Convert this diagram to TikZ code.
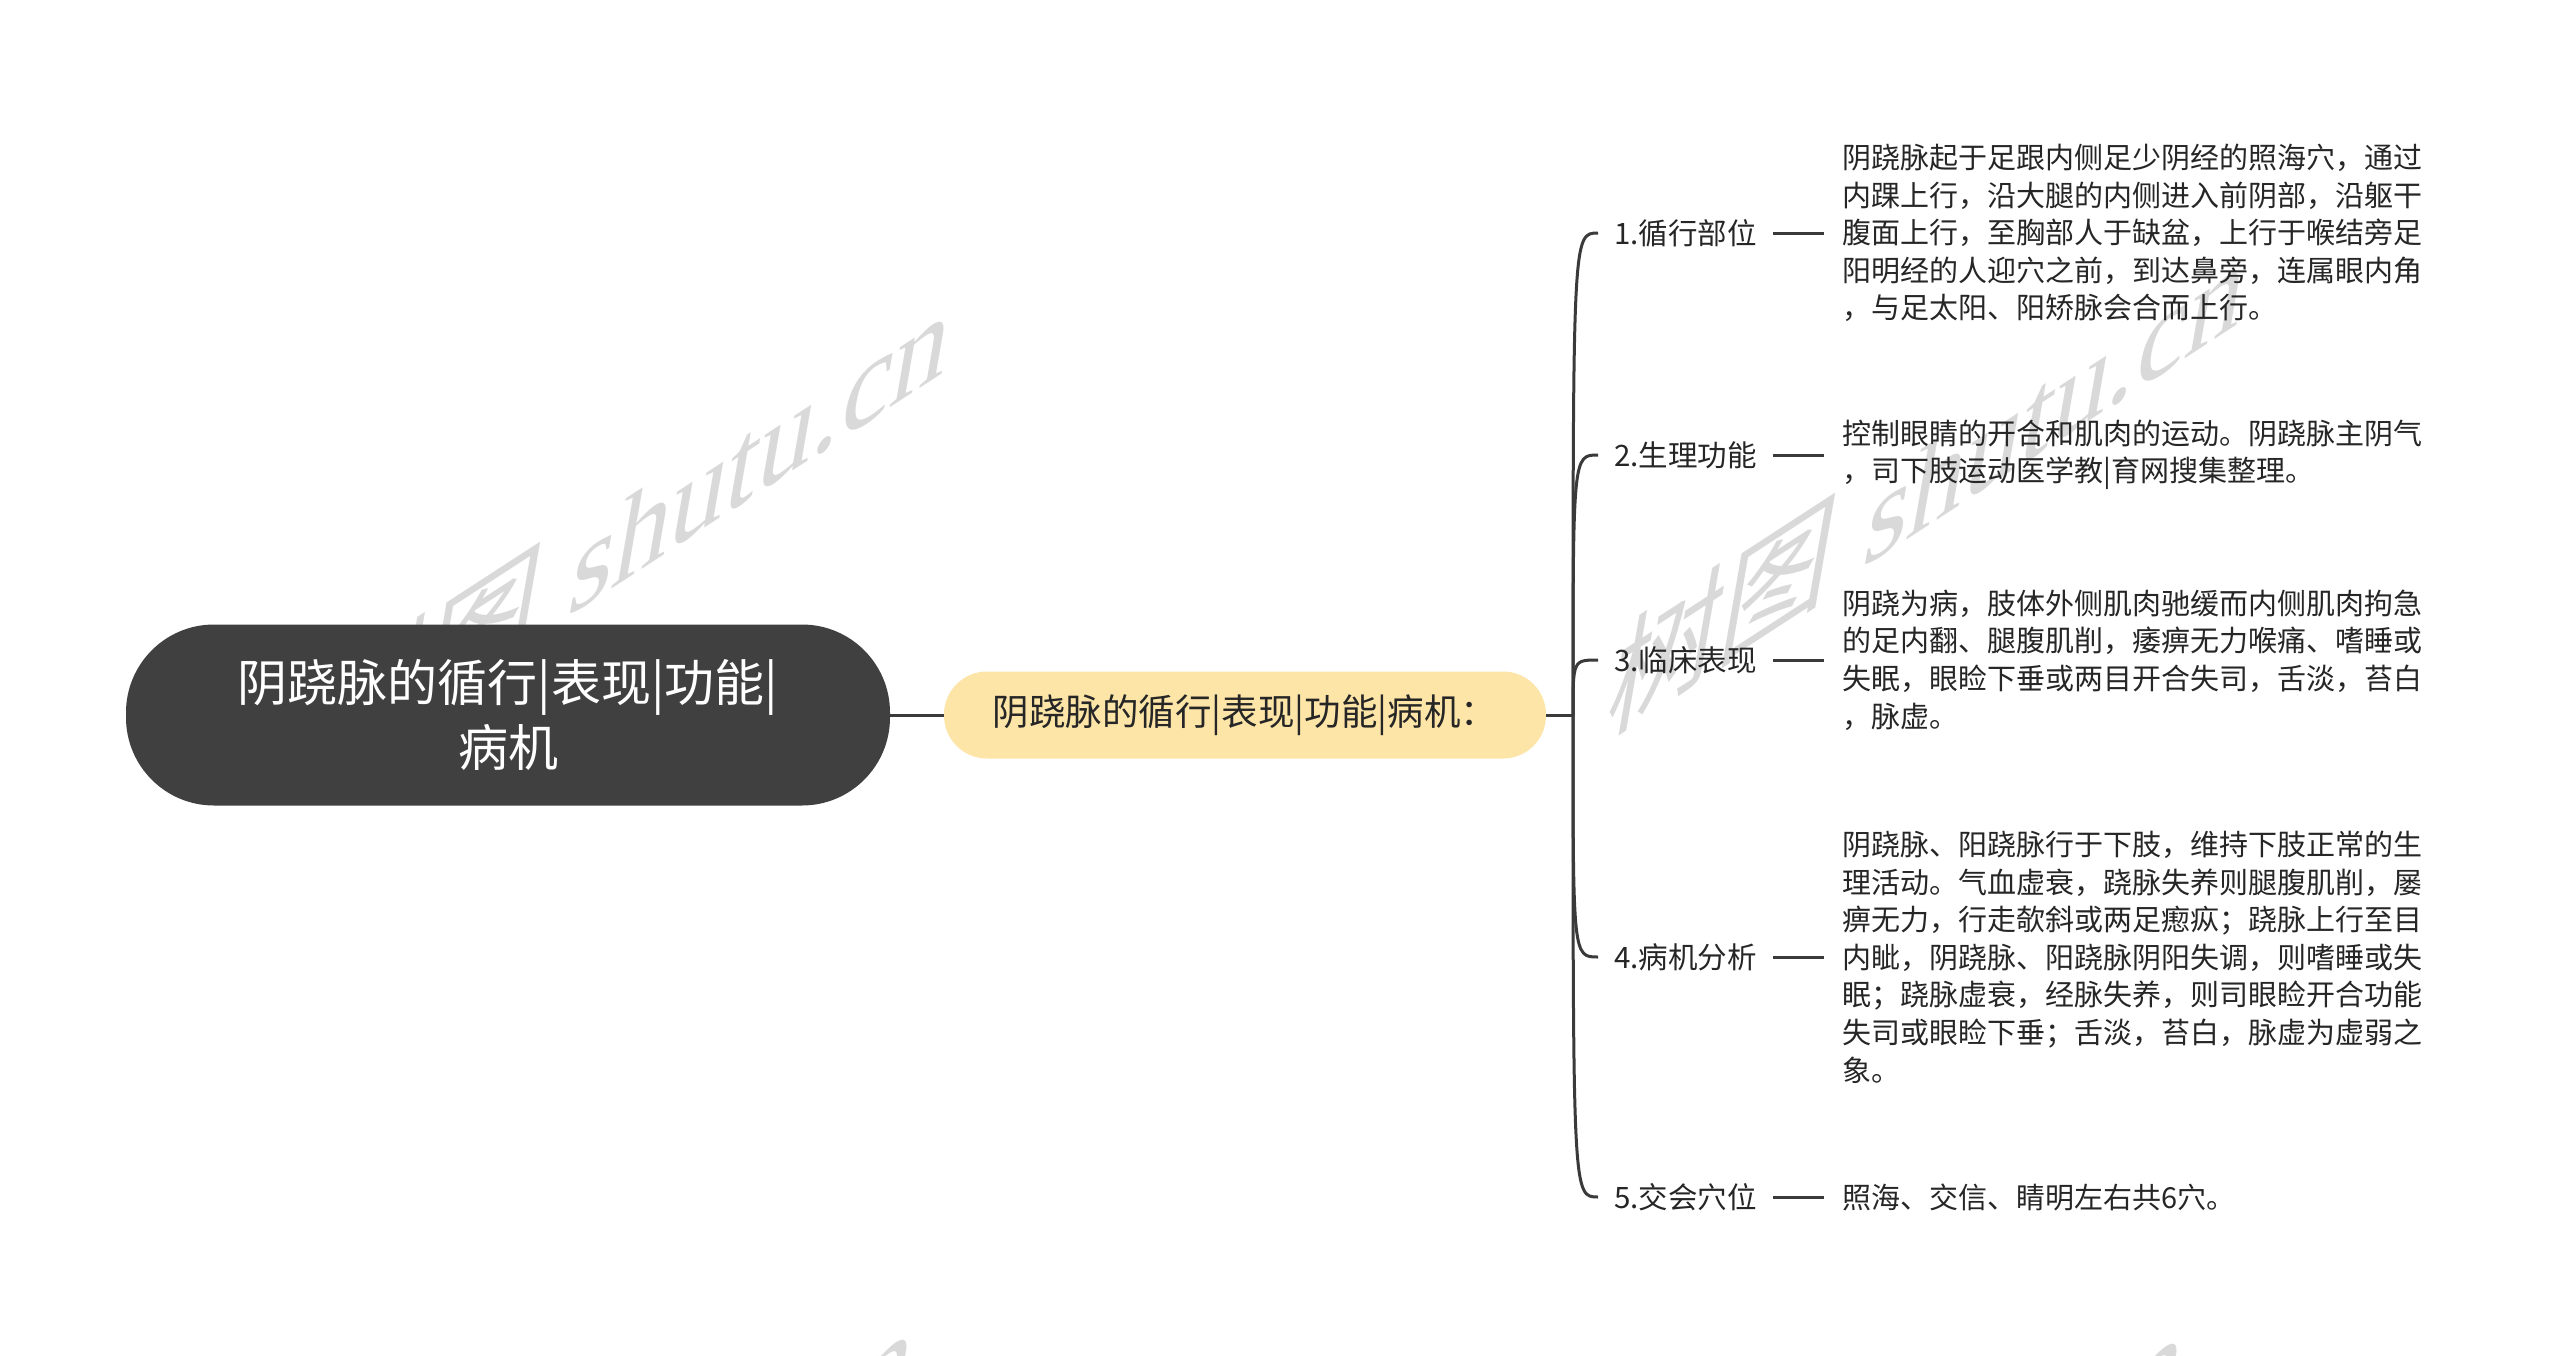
\documentclass[tikz,border=0pt]{standalone}
\usepackage{fontspec}
\newfontfamily\cjk{Noto Sans CJK SC}
\newfontfamily\wmlat{Liberation Serif}
\usetikzlibrary{calc}
\definecolor{rootfill}{HTML}{404040}
\definecolor{subfill}{HTML}{FDE5A8}
\definecolor{linec}{HTML}{3A3A3A}
\definecolor{txt}{HTML}{262626}
\definecolor{wmc}{HTML}{D9D9D9}
\begin{document}
\begin{tikzpicture}[x=1pt,y=-1pt,
  rootbox/.style={fill=rootfill, rounded corners=88pt, minimum width=764pt, minimum height=181pt, text=white, align=center, font=\cjk\fontsize{50}{65}\selectfont, inner sep=0pt},
  subbox/.style={fill=subfill, rounded corners=43pt, minimum width=602pt, minimum height=87pt, text=txt, font=\cjk\fontsize{36.5}{42}\selectfont, inner sep=0pt},
  lbl/.style={anchor=west, inner xsep=16pt, inner ysep=2pt, text=txt, font=\cjk\fontsize{29.5}{34}\selectfont},
  desc/.style={anchor=west, inner xsep=18pt, inner ysep=0pt, align=left, text=txt, font=\cjk\fontsize{29}{37.6}\selectfont},
  conn/.style={draw=linec, line width=3pt},
  wm/.style={text=wmc, inner sep=0pt, font=\fontsize{134}{140}\selectfont}
]
\useasboundingbox (0,0) rectangle (2560,1355);
\fill[white] (0,0) rectangle (2560,1355);
% watermarks
\begin{scope}
\clip (0,0) rectangle (2560,1355);
\foreach \a/\b in {634/530,1929/481,597/1548,1867/1552} {
  \begin{scope}[shift={(\a,\b)}, cm={0.839,0.545,0.17,0.98,(0,0)}]
    \node[wm, transform shape] {{\cjk 树图} {\wmlat shutu.cn}};
  \end{scope}
}
\end{scope}
% main nodes
\node[rootbox] (root) at (508,715) {阴跷脉的循行|表现|功能|\\病机};
\node[subbox] (sub) at (1245,715) {阴跷脉的循行|表现|功能|病机：};
\coordinate (J) at (1573,715);
\draw[conn] (root.east) -- (sub.west);
\draw[conn] (sub.east) -- (J);
% labels
\node[lbl] (l1) at (1598,233) {1.循行部位};
\node[lbl] (l2) at (1598,455) {2.生理功能};
\node[lbl] (l3) at (1598,660) {3.临床表现};
\node[lbl] (l4) at (1598,957) {4.病机分析};
\node[lbl] (l5) at (1598,1197) {5.交会穴位};
\foreach \n in {l1,l2,l3,l4,l5} {
  \draw[conn] (J) .. controls (J |- \n.west) and (J |- \n.west) .. (\n.west);
}
% descriptions
\node[desc] (t1) at (1824,233) {阴跷脉起于足跟内侧足少阴经的照海穴，通过\\内踝上行，沿大腿的内侧进入前阴部，沿躯干\\腹面上行，至胸部人于缺盆，上行于喉结旁足\\阳明经的人迎穴之前，到达鼻旁，连属眼内角\\，与足太阳、阳矫脉会合而上行。};
\node[desc] (t2) at (1824,455) {控制眼睛的开合和肌肉的运动。阴跷脉主阴气\\，司下肢运动医学教|育网搜集整理。};
\node[desc] (t3) at (1824,660) {阴跷为病，肢体外侧肌肉驰缓而内侧肌肉拘急\\的足内翻、腿腹肌削，痿痹无力喉痛、嗜睡或\\失眠，眼睑下垂或两目开合失司，舌淡，苔白\\，脉虚。};
\node[desc] (t4) at (1824,957) {阴跷脉、阳跷脉行于下肢，维持下肢正常的生\\理活动。气血虚衰，跷脉失养则腿腹肌削，屡\\痹无力，行走欹斜或两足瘛疭；跷脉上行至目\\内眦，阴跷脉、阳跷脉阴阳失调，则嗜睡或失\\眠；跷脉虚衰，经脉失养，则司眼睑开合功能\\失司或眼睑下垂；舌淡，苔白，脉虚为虚弱之\\象。};
\node[desc] (t5) at (1824,1197) {照海、交信、睛明左右共6穴。};
\foreach \i in {1,...,5} {
  \draw[conn] (l\i.east) -- (t\i.west);
}
\end{tikzpicture}
\end{document}
